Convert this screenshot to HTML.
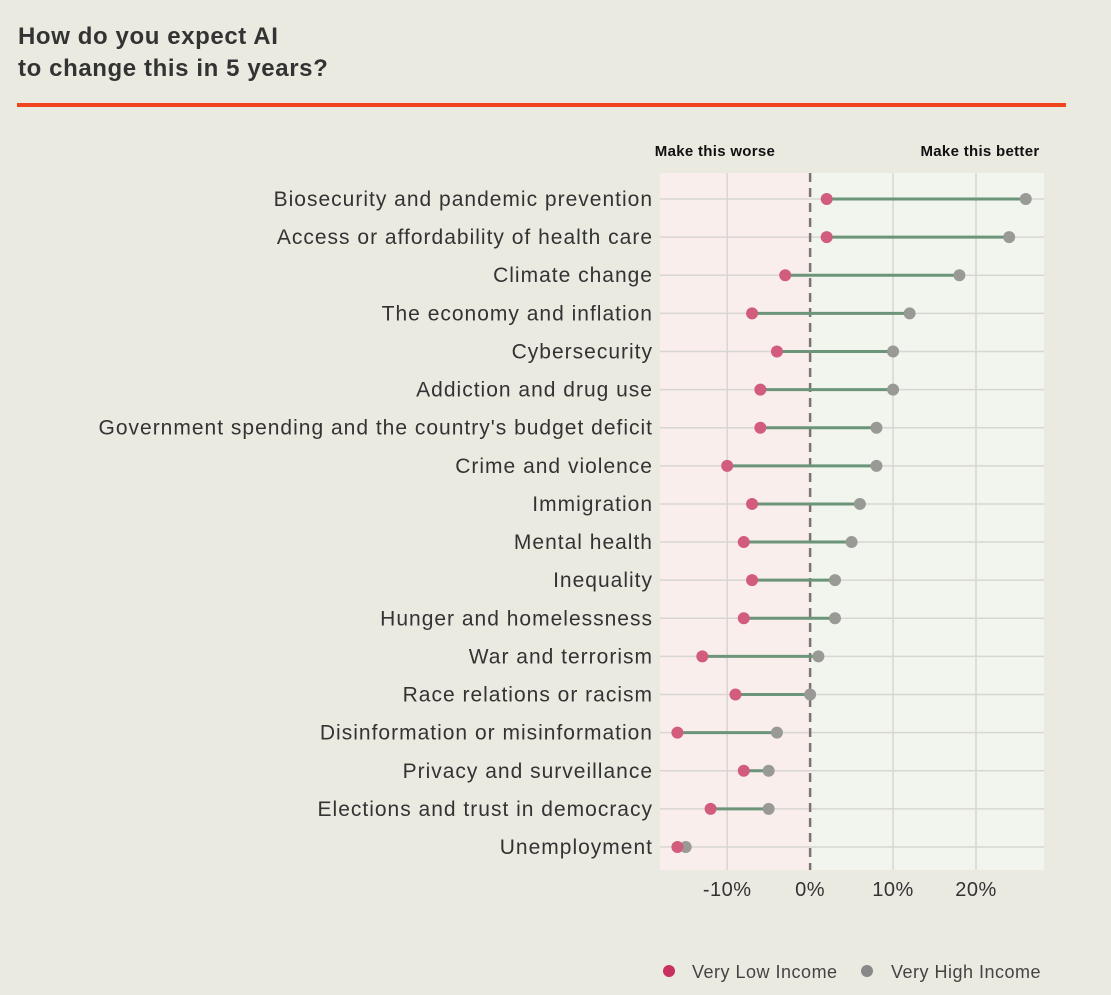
<!DOCTYPE html>
<html><head><meta charset="utf-8"><style>
body{margin:0;background:#ebeae1;width:1111px;height:990px;overflow:hidden;font-family:"Liberation Sans",sans-serif;}
</style></head><body>
<svg width="1111" height="990" xmlns="http://www.w3.org/2000/svg">
<text x="18" y="44" font-size="24" font-weight="bold" fill="#333" letter-spacing="0.6">How do you expect AI</text>
<text x="18" y="76" font-size="24" font-weight="bold" fill="#333" letter-spacing="0.6">to change this in 5 years?</text>
<rect x="17" y="103" width="1049" height="4" fill="#f0441c"/>
<text x="715" y="156" font-size="15" font-weight="bold" text-anchor="middle" fill="#111" letter-spacing="0.3">Make this worse</text>
<text x="980" y="156" font-size="15" font-weight="bold" text-anchor="middle" fill="#111" letter-spacing="0.3">Make this better</text>
<g id="plot"></g>
<circle cx="669" cy="971" r="6" fill="#c8305f"/>
<text x="692" y="978" font-size="18" fill="#444" letter-spacing="0.5">Very Low Income</text>
<circle cx="867" cy="971" r="6" fill="#888"/>
<text x="891" y="978" font-size="18" fill="#444" letter-spacing="0.5">Very High Income</text>
</svg>
<script>
const categories=["Biosecurity and pandemic prevention","Access or affordability of health care","Climate change","The economy and inflation","Cybersecurity","Addiction and drug use","Government spending and the country's budget deficit","Crime and violence","Immigration","Mental health","Inequality","Hunger and homelessness","War and terrorism","Race relations or racism","Disinformation or misinformation","Privacy and surveillance","Elections and trust in democracy","Unemployment"];
const lowIncome=[2,2,-3,-7,-4,-6,-6,-10,-7,-8,-7,-8,-13,-9,-16,-8,-12,-16];
const highIncome=[26,24,18,12,10,10,8,8,6,5,3,3,1,0,-4,-5,-5,-15];
const tickValues=[-10,0,10,20];
const tickLabels=["-10%","0%","10%","20%"];
const NS="http://www.w3.org/2000/svg";
const g=document.getElementById('plot');
const X0=660,X1=1044,Y0=173,Y1=870,VMIN=-18.1,VMAX=28.2;
const xs=v=>X0+(v-VMIN)/(VMAX-VMIN)*(X1-X0);
const ys=i=>199+i*(847-199)/(categories.length-1);
function mk(t,a){const e=document.createElementNS(NS,t);for(const k in a)e.setAttribute(k,a[k]);g.appendChild(e);return e;}
let e;
e=mk('rect',{x:X0,y:Y0,width:xs(0)-X0,height:Y1-Y0,fill:'#f9eeec'});


e=mk('rect',{x:xs(0),y:Y0,width:X1-xs(0),height:Y1-Y0,fill:'#f1f5ed'});


tickValues.forEach((v,i)=>{
 if(v!==0){e=mk('line',{x1:xs(v),x2:xs(v),y1:Y0,y2:Y1,stroke:'#d8d6d2','stroke-width':1.5});
 
 }
 e=mk('text',{x:xs(v),y:896,'font-size':20,'text-anchor':'middle',fill:'#333','letter-spacing':0.5});e.textContent=tickLabels[i];
 
 
});
categories.forEach((c,i)=>{
 const y=ys(i);
 e=mk('line',{x1:X0,x2:X1,y1:y,y2:y,stroke:'#d8d6d2','stroke-width':1.5});
 
 
 e=mk('text',{x:653,y:y+7,'font-size':21,'text-anchor':'end',fill:'#333','letter-spacing':1});e.textContent=c;
 
 
});
e=mk('line',{x1:xs(0),x2:xs(0),y1:Y0,y2:Y1,stroke:'#7a7473','stroke-width':2.5,'stroke-dasharray':'9,6'});


categories.forEach((c,i)=>{
 const y=ys(i);
 e=mk('line',{x1:xs(lowIncome[i]),x2:xs(highIncome[i]),y1:y,y2:y,stroke:'#6b9479','stroke-width':3});
 
 
 e=mk('circle',{cx:xs(highIncome[i]),cy:y,r:6,fill:'#999a96'});
 
 
 e=mk('circle',{cx:xs(lowIncome[i]),cy:y,r:6,fill:'#d25c7c'});
 
 
});
</script>
</body></html>
